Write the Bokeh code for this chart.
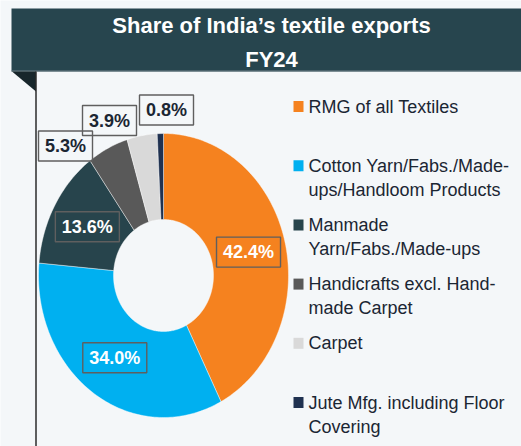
import numpy as np
from bokeh.plotting import figure
from bokeh.models import Range1d, ColumnDataSource
from bokeh.core.properties import value
from bokeh.embed import file_html
from bokeh.resources import INLINE

# ---------------- data ----------------
title_lines = ["Share of India\u2019s textile exports", "FY24"]
categories = [
    "RMG of all Textiles",
    "Cotton Yarn/Fabs./Made-\nups/Handloom Products",
    "Manmade\nYarn/Fabs./Made-ups",
    "Handicrafts excl. Hand-\nmade Carpet",
    "Carpet",
    "Jute Mfg. including Floor\nCovering",
]
shares = [42.4, 34.0, 13.6, 5.3, 3.9, 0.8]
label_texts = ["42.4%", "34.0%", "13.6%", "5.3%", "3.9%", "0.8%"]

# ---------------- styles / layout ----------------
colors = ["#F5821F", "#00B0F0", "#27444C", "#595959", "#D9D9D9", "#1F3150"]
DARK = "#1B2633"
label_colors = ["white", "white", "white", DARK, DARK, DARK]
BG = "#F4F7F9"
HEADER = "#27454E"
FONT = "Liberation Sans"

W, H = 521, 446
CX, CY = 163, 275
RX_OUT, RY_OUT = 125, 142
RX_IN, RY_IN = 50, 56
# manual anchors for the small slices' (moved) labels: (x, y)
outside_label_pos = {3: (65, 145.5), 4: (109, 120), 5: (166, 109.5)}

p = figure(width=W, height=H, x_range=Range1d(0, W), y_range=Range1d(H, 0),
           x_axis_type=None, y_axis_type=None, output_backend="svg",
           toolbar_location=None, min_border=0)
p.grid.visible = False
p.outline_line_color = None
p.background_fill_color = BG
p.border_fill_color = BG

# header band
p.quad(left=11, right=W, top=8, bottom=71, fill_color=HEADER, line_color=None)
p.line([11, W], [70.5, 70.5], line_color="#6E8188", line_width=1)
# corner fold + vertical rule
p.patch([11.5, 35.5, 35.5], [71, 71, 91], fill_color="#17262B", line_color=None)
p.line([35.5, 35.5], [71, H], line_color="#2B2B2B", line_width=1.5)

# title
p.text(x=[271, 271], y=[25, 59], text=title_lines, text_color="white",
       text_font=value(FONT), text_font_style="bold", text_font_size="22px",
       text_align="center", text_baseline="middle")

# donut (elliptical) slices
fr = np.array(shares) / sum(shares)
ends = np.cumsum(fr)
starts = ends - fr
xs, ys = [], []
for a0, a1 in zip(starts, ends):
    t = np.linspace(a0, a1, max(int((a1 - a0) * 360), 2)) * 2 * np.pi
    xo = CX + RX_OUT * np.sin(t)
    yo = CY - RY_OUT * np.cos(t)
    xi = CX + RX_IN * np.sin(t[::-1])
    yi = CY - RY_IN * np.cos(t[::-1])
    xs.append(list(np.concatenate([xo, xi])))
    ys.append(list(np.concatenate([yo, yi])))
p.patches(xs=xs, ys=ys, fill_color=colors, line_color="white",
          line_alpha=0.6, line_width=0.7)

# data labels
lx, ly, lw = [], [], []
for i, (a0, a1) in enumerate(zip(starts, ends)):
    if i in outside_label_pos:
        x, y = outside_label_pos[i]
    else:
        m = (a0 + a1) * np.pi
        x = CX + (RX_OUT + RX_IN) / 2 * np.sin(m)
        y = CY - (RY_OUT + RY_IN) / 2 * np.cos(m)
    lx.append(x)
    ly.append(y)
    lw.append(10 * len(label_texts[i]) + 14)
src = ColumnDataSource(dict(x=lx, y=ly, w=lw, text=label_texts, tc=label_colors))
p.rect(x="x", y="y", width="w", height=30, source=src, fill_color=None,
       line_color="#5F5F5F", line_width=1.4)
p.text(x="x", y="y", text="text", text_color="tc", source=src,
       text_font=value(FONT), text_font_style="bold", text_font_size="18px",
       text_align="center", text_baseline="middle")

# legend
sq_x, sq_y = [], []
tx, ty, tt = [], [], []
for i, cat in enumerate(categories):
    y0 = 106 + i * 59.2
    sq_x.append(298)
    sq_y.append(y0)
    for j, line in enumerate(cat.split("\n")):
        tx.append(308)
        ty.append(y0 + j * 24)
        tt.append(line)
p.rect(x=sq_x, y=sq_y, width=10, height=11, fill_color=colors, line_color=None)
p.text(x=tx, y=ty, text=tt, text_color=DARK, text_font=value(FONT),
       text_font_size="18px", text_align="left", text_baseline="middle")

html = file_html(p, INLINE)
html = html.replace("<body>", '<body style="background:%s">' % BG, 1)
open("out.html", "w").write(html)
